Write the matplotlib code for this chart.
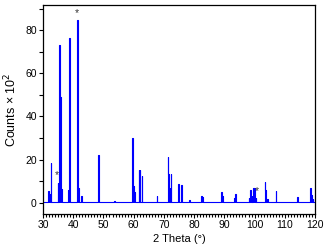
import numpy as np
import matplotlib.pyplot as plt
from matplotlib.ticker import MultipleLocator

plt.rcParams['font.family'] = ['Liberation Sans', 'DejaVu Sans']

# peak positions (2 theta) and heights (counts x 10^2)
peak_pos = [31.7, 32.1, 32.5, 34.9, 35.4, 35.7, 36.1, 38.4, 38.7, 41.2, 41.4,
            41.7, 42.6, 48.1, 48.3, 53.6, 59.6, 59.9, 60.2, 61.7, 62.0, 62.6,
            67.6, 71.2, 71.5, 71.9, 72.3, 74.7, 75.0, 75.8, 78.4, 82.4, 82.7,
            89.0, 89.3, 93.3, 93.6, 98.0, 98.6, 99.0, 99.6, 99.9, 100.4,
            103.3, 103.6, 104.2, 107.0, 113.9, 114.2, 118.5, 118.8, 119.3]
peak_h = [5.6, 4.0, 18.6, 9.3, 73.3, 49.0, 6.4, 6.0, 76.6, 68.7, 85.0,
          7.0, 3.0, 6.0, 22.3, 0.8, 30.0, 7.8, 5.0, 15.2, 15.2, 12.4,
          3.1, 21.2, 13.3, 7.0, 13.3, 8.7, 6.0, 8.2, 1.0, 3.1, 2.5,
          5.0, 3.0, 2.0, 4.0, 2.0, 5.9, 3.0, 6.8, 6.8, 2.0,
          9.6, 6.0, 1.5, 5.4, 2.5, 2.5, 6.8, 3.5, 1.5]
baseline = 0.5

# asterisk markers
star_x = [41.2, 34.7, 100.7]
star_y = [88.0, 12.7, 5.4]

# build spike trace from the peak list
xs = [30.0]
ys = [baseline]
for p, h in zip(peak_pos, peak_h):
    xs += [p, p, p + 0.15, p + 0.15]
    ys += [baseline, h, h, baseline]
xs.append(120.0)
ys.append(baseline)

fig = plt.figure(figsize=(3.25, 2.49), dpi=100)
ax = fig.add_axes([43 / 325, 1 - 214 / 249, 272 / 325, 209 / 249])
ax.plot(xs, ys, color='#0000ff', lw=0.8)
for sx, sy in zip(star_x, star_y):
    ax.text(sx, sy, '*', ha='center', va='center', fontsize=7.5, color='#333333')

ax.set_xlim(30, 120)
ax.set_ylim(-5.3, 91.8)
ax.xaxis.set_major_locator(MultipleLocator(10))
ax.xaxis.set_minor_locator(MultipleLocator(1))
ax.yaxis.set_major_locator(MultipleLocator(20))
ax.yaxis.set_minor_locator(MultipleLocator(10))
ax.tick_params(which='both', direction='out', top=False, right=False,
               labelsize=7.5, width=0.8, colors='black', pad=1.5)
ax.tick_params(which='major', length=3)
ax.tick_params(which='minor', length=2)
ax.tick_params(axis='y', which='minor', length=3)
for s in ax.spines.values():
    s.set_linewidth(0.9)

ax.set_xlabel('2 Theta (°)', fontsize=8, labelpad=3)
ax.set_ylabel('Counts × 10$^2$', fontsize=9, labelpad=4)

fig.savefig('out.png', dpi=100)
